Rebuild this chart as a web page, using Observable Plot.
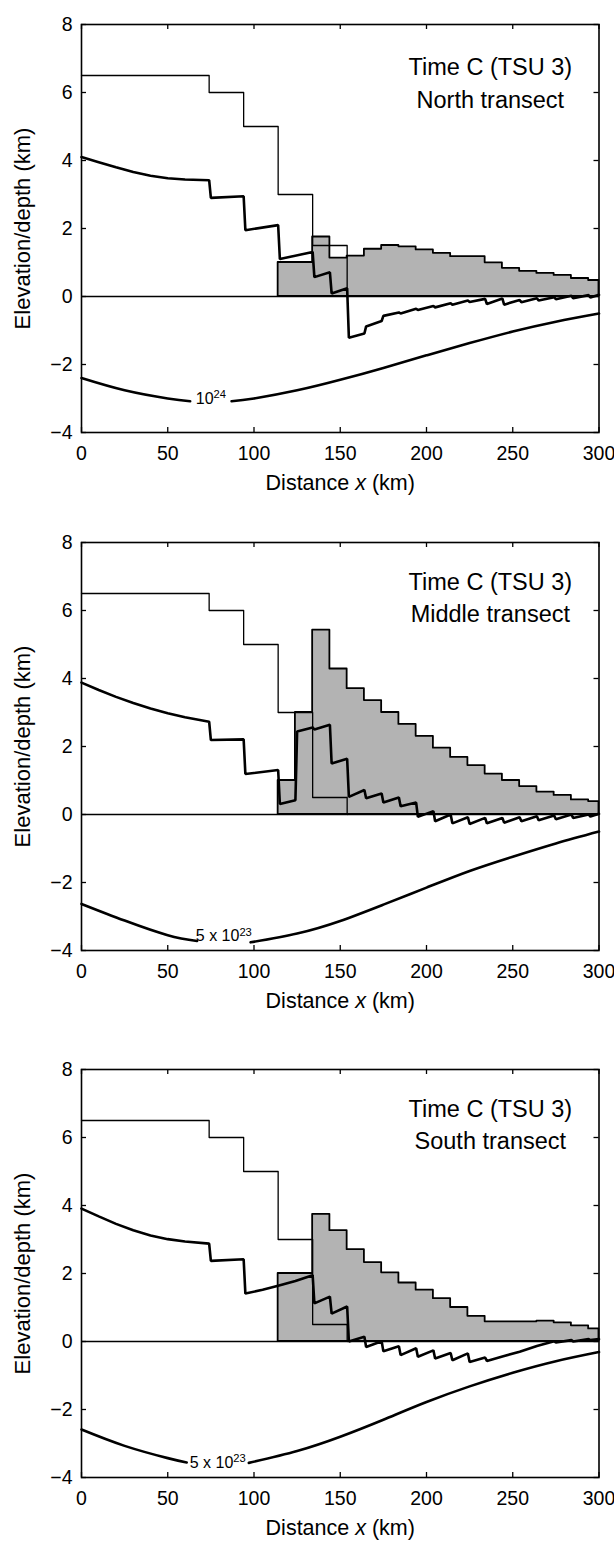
<!DOCTYPE html>
<html><head><meta charset="utf-8">
<script src="https://cdn.jsdelivr.net/npm/d3@7"></script>
<script src="https://cdn.jsdelivr.net/npm/@observablehq/plot@0.6"></script>
<style>
html,body{margin:0;padding:0;background:#fff;}
#chart svg{display:block;}
</style></head><body><div id="chart"></div>
<script>
// ---------- text ----------
const xTicks = [0, 50, 100, 150, 200, 250, 300];
const yTicks = [-4, -2, 0, 2, 4, 6, 8];
const timeLabel = "Time C (TSU 3)";
const transectNames = ["North transect", "Middle transect", "South transect"];
const xAxisTitle = "Distance *x* (km)";
const yAxisTitle = "Elevation/depth (km)";
const rigidityLabels = ["10^24", "5 x 10^23", "5 x 10^23"];
const labelGapStart = [63, 67, 61];
const labelGapEnd = [87, 98, 97];
const rigidityLabelY = [-3.0, -3.58, -3.56];
const titleX = 237;
const titleY = [6.33, 6.43, 6.43];

// ---------- initial topography (thin step line) ----------
const stepX = [0, 74, 94, 114, 134, 154];
const stepNorth  = [6.5, 6.0, 5.0, 3.0, 1.5, 0];
const stepMiddle = [6.5, 6.0, 5.0, 3.0, 0.5, 0];
const stepSouth  = [6.5, 6.0, 5.0, 3.0, 0.5, 0];

// ---------- sediment fill (grey staircase) ----------
const fillX = [114, 124, 134, 144, 154, 164, 174, 184, 194, 204, 214, 224, 234, 244, 254, 264, 274, 284, 294, 300];
const fillNorth  = [1.0, 1.0, 1.75, 1.13, 1.19, 1.39, 1.50, 1.46, 1.37, 1.27, 1.17, 1.17, 0.99, 0.83, 0.74, 0.68, 0.62, 0.53, 0.47, 0.47];
const fillMiddle = [1.0, 3.0, 5.42, 4.28, 3.70, 3.35, 3.00, 2.65, 2.30, 1.95, 1.68, 1.44, 1.19, 1.00, 0.82, 0.66, 0.56, 0.43, 0.38, 0.38];
const fillSouth  = [2.0, 2.0, 3.74, 3.26, 2.70, 2.32, 2.02, 1.72, 1.51, 1.26, 1.00, 0.74, 0.58, 0.58, 0.58, 0.60, 0.55, 0.46, 0.37, 0.37];

// ---------- deformed surface (thick zigzag line) ----------
const thickXNorth = [0,10,20,30,40,50,60,74,75,94,95,114,115,134,135,144,145,154,155,164,165,174,175,184,185,194,195,204,205,214,215,224,225,234,235,244,245,254,255,264,265,274,275,284,285,294,295,300];
const thickNorth  = [4.1,3.95,3.8,3.66,3.55,3.48,3.44,3.42,2.9,2.95,1.95,2.1,1.1,1.31,0.57,0.71,0.09,0.24,-1.21,-1.09,-0.88,-0.72,-0.57,-0.47,-0.5,-0.36,-0.4,-0.28,-0.32,-0.2,-0.24,-0.12,-0.16,-0.07,-0.22,-0.06,-0.24,-0.1,-0.17,-0.05,-0.12,-0.02,-0.08,0.02,-0.05,0.04,-0.03,0.05];
const thickXMiddle = [0,10,20,30,40,50,60,74,75,94,95,114,115,124,125,134,135,144,145,154,155,164,165,174,175,184,185,194,195,204,205,214,215,224,225,234,235,244,245,254,255,264,265,274,275,284,285,294,295,300];
const thickMiddle  = [3.88,3.66,3.46,3.28,3.12,2.98,2.86,2.73,2.19,2.21,1.19,1.31,0.31,0.42,2.44,2.56,2.5,2.64,1.5,1.64,0.52,0.72,0.48,0.62,0.35,0.5,0.24,0.35,-0.07,0.1,-0.2,0.0,-0.26,-0.08,-0.28,-0.1,-0.26,-0.1,-0.24,-0.08,-0.2,-0.05,-0.17,-0.03,-0.14,0.0,-0.1,0.0,-0.06,0.02];
const thickXSouth = [0,10,20,30,40,50,60,74,75,94,95,105,114,124,134,135,144,145,154,155,164,165,174,175,184,185,194,195,204,205,214,215,224,225,234,235,244,254,264,274,275,284,285,294,295,300];
const thickSouth  = [3.91,3.68,3.46,3.27,3.12,3.01,2.94,2.88,2.37,2.42,1.41,1.52,1.64,1.78,1.95,1.12,1.32,0.82,1.03,0.0,0.14,-0.16,0.01,-0.29,-0.14,-0.4,-0.2,-0.45,-0.26,-0.5,-0.34,-0.55,-0.35,-0.6,-0.47,-0.57,-0.44,-0.3,-0.13,0.01,-0.03,0.04,0.0,0.07,0.04,0.07];

// ---------- flexural curve (lower smooth line, broken where labelled) ----------
const curveXNorth  = [0, 25, 50, 63, 87, 100, 125, 150, 175, 200, 225, 250, 275, 300];
const curveNorth   = [-2.4, -2.76, -3.0, -3.08, -3.08, -3.0, -2.76, -2.45, -2.1, -1.73, -1.37, -1.03, -0.74, -0.5];
const curveXMiddle = [0, 25, 50, 67, 98, 125, 150, 175, 200, 225, 250, 275, 300];
const curveMiddle  = [-2.63, -3.12, -3.55, -3.72, -3.76, -3.5, -3.13, -2.65, -2.15, -1.66, -1.24, -0.85, -0.5];
const curveXSouth  = [0, 25, 50, 61, 97, 125, 150, 175, 200, 225, 250, 275, 300];
const curveSouth   = [-2.59, -3.07, -3.43, -3.56, -3.57, -3.22, -2.8, -2.3, -1.78, -1.32, -0.92, -0.58, -0.31];

// ---------- layout ----------
const W = 614, mL = 81, mR = 15.5, mT = 24, plotH = 408;
const svgHeights = [518, 527, 497];

const pts = (xs, vs) => xs.map((x, i) => ({x, v: vs[i]}));

function richNode(el) {
  const s = el.textContent;
  if (!/[\^*]/.test(s)) return;
  el.textContent = "";
  const re = /\*([^*]+)\*|\^(\S+)/g;
  let last = 0, m;
  while ((m = re.exec(s))) {
    if (m.index > last) el.appendChild(document.createTextNode(s.slice(last, m.index)));
    const ts = document.createElementNS("http://www.w3.org/2000/svg", "tspan");
    if (m[1]) { ts.setAttribute("font-style", "italic"); ts.textContent = m[1]; }
    else { ts.setAttribute("font-size", "0.7em"); ts.setAttribute("dy", "-0.5em"); ts.textContent = m[2]; }
    el.appendChild(ts);
    last = re.lastIndex;
  }
  if (last < s.length) el.appendChild(document.createTextNode(s.slice(last)));
}

function panel(i, step, fill, thickX, thick, curveX, curve) {
  const H = svgHeights[i];
  const mB = H - mT - plotH;
  const plotW = W - mL - mR;
  const gapEnd = labelGapEnd[i];
  const svg = Plot.plot({
    width: W, height: H,
    marginLeft: mL, marginRight: mR, marginTop: mT, marginBottom: mB,
    style: {fontFamily: "'Liberation Sans', Arial, Helvetica, sans-serif", fontSize: "19.5px", background: "white", color: "black", overflow: "visible"},
    x: {domain: [0, 300], ticks: xTicks, tickSize: 0, tickPadding: 14, label: null},
    y: {domain: [-4, 8], ticks: yTicks, tickSize: 0, tickPadding: 9, label: null},
    marks: [
      Plot.areaY(pts(fillX, fill), {x: "x", y: "v", curve: "step-after", fill: "#b3b3b3", stroke: "black", strokeWidth: 1.8}),
      Plot.ruleY([0], {stroke: "black", strokeWidth: 1.3}),
      Plot.line(pts(stepX, step), {x: "x", y: "v", curve: "step-after", stroke: "black", strokeWidth: 1.3}),
      Plot.line(pts(thickX, thick), {x: "x", y: "v", stroke: "black", strokeWidth: 2.6, strokeLinejoin: "miter"}),
      Plot.line(pts(curveX, curve), {x: "x", y: "v", z: d => d.x >= gapEnd ? "right" : "left", curve: "natural", stroke: "black", strokeWidth: 2.6}),
      Plot.text([rigidityLabels[i]], {x: () => (labelGapStart[i] + labelGapEnd[i]) / 2, y: () => rigidityLabelY[i], text: d => d, fontSize: 16, fill: "black"}),
      Plot.text([`${timeLabel}\n${transectNames[i]}`], {x: () => titleX, y: () => titleY[i], text: d => d, fontSize: 23.5, lineHeight: 1.38, fill: "black"}),
      Plot.text([xAxisTitle], {frameAnchor: "bottom", dy: 51, textAnchor: "middle", lineAnchor: "middle", text: d => d, fontSize: 21.5, fill: "black"}),
      Plot.text([yAxisTitle], {frameAnchor: "left", dx: -59, rotate: -90, textAnchor: "middle", lineAnchor: "middle", text: d => d, fontSize: 22, fill: "black"}),
      Plot.tickX(xTicks, {x: d => d, insetTop: plotH - 5, stroke: "black", strokeWidth: 1.3}),
      Plot.tickX(xTicks, {x: d => d, insetBottom: plotH - 5, stroke: "black", strokeWidth: 1.3}),
      Plot.tickY(yTicks, {y: d => d, insetRight: plotW - 5, stroke: "black", strokeWidth: 1.3}),
      Plot.tickY(yTicks, {y: d => d, insetLeft: plotW - 5, stroke: "black", strokeWidth: 1.3}),
      Plot.frame({stroke: "black", strokeWidth: 1.6})
    ]
  });
  svg.querySelectorAll("text").forEach(t => {
    const spans = t.querySelectorAll("tspan");
    if (spans.length) spans.forEach(richNode); else richNode(t);
  });
  return svg;
}

const root = document.getElementById("chart");
root.appendChild(panel(0, stepNorth, fillNorth, thickXNorth, thickNorth, curveXNorth, curveNorth));
root.appendChild(panel(1, stepMiddle, fillMiddle, thickXMiddle, thickMiddle, curveXMiddle, curveMiddle));
root.appendChild(panel(2, stepSouth, fillSouth, thickXSouth, thickSouth, curveXSouth, curveSouth));
</script></body></html>
